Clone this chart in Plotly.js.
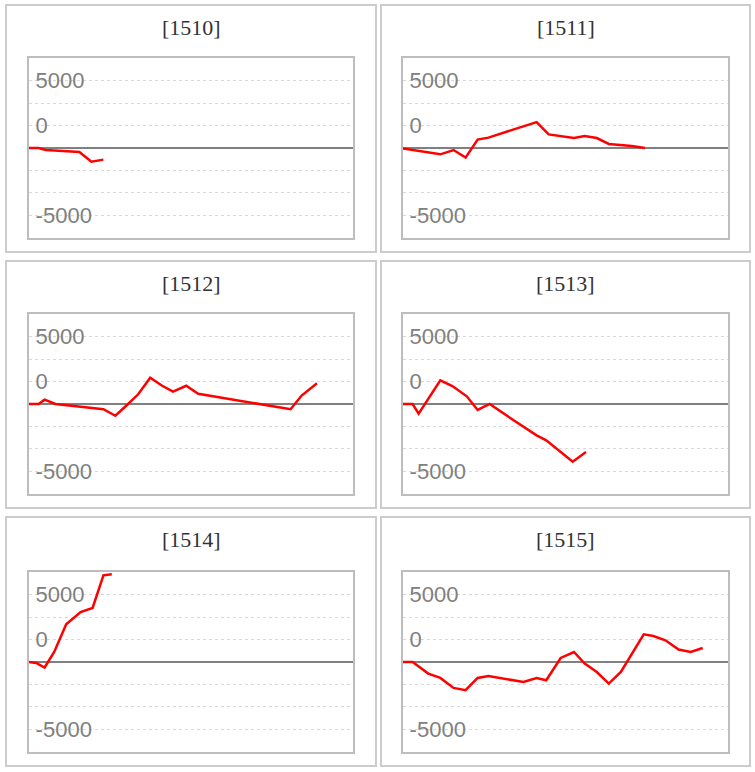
<!DOCTYPE html>
<html>
<head>
<meta charset="utf-8">
<script src="https://cdn.plot.ly/plotly-3.0.1.min.js"></script>
<style>
  body { margin: 0; background: #fff; }
  #myDiv { width: 755px; height: 772px; }
</style>
</head>
<body>
<div id="myDiv"></div>
<script>
var titles = ['[1510]', '[1511]', '[1512]', '[1513]', '[1514]', '[1515]'];

var x1510 = [0, 0.8, 1.4, 4.2, 5.2, 6.2];
var y1510 = [0, 0, -150, -300, -1010, -860];

var x1511 = [0, 3.1, 4.2, 5.2, 6.2, 7.1, 11.1, 12.1, 14.2, 15.1, 16.1, 17.1, 19.0, 20.1];
var y1511 = [-40, -470, -150, -710, 620, 770, 1920, 1010, 740, 890, 740, 300, 150, 0];

var x1512 = [0, 0.8, 1.3, 2.2, 6.2, 7.2, 8.1, 9.1, 10.1, 11.1, 12.0, 13.1, 14.1, 21.8, 22.7, 24.0];
var y1512 = [0, 0, 320, 0, -390, -870, -130, 720, 1950, 1350, 910, 1350, 760, -390, 610, 1530];

var x1513 = [0, 0.8, 1.3, 2.1, 3.1, 4.1, 5.3, 6.2, 7.2, 9.0, 11.1, 11.9, 14.1, 15.2];
var y1513 = [0, 0, -720, 390, 1750, 1330, 570, -440, 0, -1090, -2320, -2690, -4270, -3550];

var x1514 = [0, 0.6, 1.3, 2.1, 3.1, 4.3, 5.3, 6.2, 6.9];
var y1514 = [0, -70, -410, 740, 2790, 3700, 4000, 6420, 6500];

var x1515 = [0, 0.8, 2.1, 3.1, 4.2, 5.2, 6.2, 7.1, 10.0, 11.1, 11.9, 13.1, 14.2, 15.1, 16.1, 17.1, 18.1, 20.0, 20.8, 21.8, 22.9, 23.9, 24.9];
var y1515 = [0, 0, -860, -1180, -1920, -2090, -1180, -1040, -1480, -1180, -1350, 300, 740, -120, -740, -1600, -740, 2050, 1920, 1610, 920, 740, 1040];

var tickVals = [-5000, -3333, -1667, 1667, 3333, 5000];
var tickText = ['-5000', '', '', '0', '', '5000'];

var xs = [x1510, x1511, x1512, x1513, x1514, x1515];
var ys = [y1510, y1511, y1512, y1513, y1514, y1515];

var W = 755, H = 772;
// plot areas in pixels
var colX = [[29, 353], [403, 728]];
var rowY = [[58, 238], [314, 494], [572, 752]];
// outer boxes in pixels
var boxX = [[6, 376], [381, 750]];
var boxY = [[5, 252], [261, 508], [517, 766]];

var data = [];
var layout = {
  width: W,
  height: H,
  margin: {l: 0, r: 0, t: 0, b: 0},
  showlegend: false,
  paper_bgcolor: '#fff',
  plot_bgcolor: '#fff',
  shapes: [],
  annotations: []
};

for (var i = 0; i < 6; i++) {
  var c = i % 2, r = Math.floor(i / 2);
  var n = i + 1;
  var sfx = (n == 1 ? '' : n);

  data.push({
    x: xs[i],
    y: ys[i],
    xaxis: 'x' + sfx,
    yaxis: 'y' + sfx,
    type: 'scatter',
    mode: 'lines',
    line: {color: '#ff0000', width: 2.5},
    hoverinfo: 'skip'
  });

  layout['xaxis' + sfx] = {
    domain: [colX[c][0] / W, colX[c][1] / W],
    range: [0, 27],
    showgrid: false,
    zeroline: false,
    showticklabels: false,
    ticks: '',
    showline: true,
    mirror: true,
    linecolor: '#bdbdbd',
    linewidth: 2,
    anchor: 'y' + sfx,
    fixedrange: true
  };
  layout['yaxis' + sfx] = {
    domain: [1 - rowY[r][1] / H, 1 - rowY[r][0] / H],
    range: [-6667, 6667],
    tickvals: tickVals,
    ticktext: tickText,
    ticklabelposition: 'inside',
    ticklabelstandoff: 8,
    tickfont: {family: 'Liberation Sans, Arial, sans-serif', size: 22, color: '#808080'},
    ticks: '',
    showgrid: true,
    gridcolor: '#d9d9d9',
    griddash: 'dot',
    gridwidth: 1,
    zeroline: true,
    zerolinecolor: '#808080',
    zerolinewidth: 2,
    showline: true,
    mirror: true,
    linecolor: '#bdbdbd',
    linewidth: 2,
    anchor: 'x' + sfx,
    fixedrange: true
  };

  layout.shapes.push({
    type: 'rect', xref: 'paper', yref: 'paper', layer: 'below',
    x0: boxX[c][0] / W, x1: boxX[c][1] / W,
    y0: 1 - boxY[r][1] / H, y1: 1 - boxY[r][0] / H,
    line: {color: '#cccccc', width: 2}
  });

  layout.annotations.push({
    text: titles[i],
    xref: 'paper', yref: 'paper',
    x: (boxX[c][0] + boxX[c][1]) / 2 / W,
    y: 1 - (boxY[r][0] + 22) / H,
    xanchor: 'center', yanchor: 'middle',
    showarrow: false,
    font: {family: 'Liberation Serif, Times New Roman, serif', size: 22, color: '#333333'}
  });
}

Plotly.newPlot('myDiv', data, layout, {displayModeBar: false, staticPlot: true});
</script>
</body>
</html>
